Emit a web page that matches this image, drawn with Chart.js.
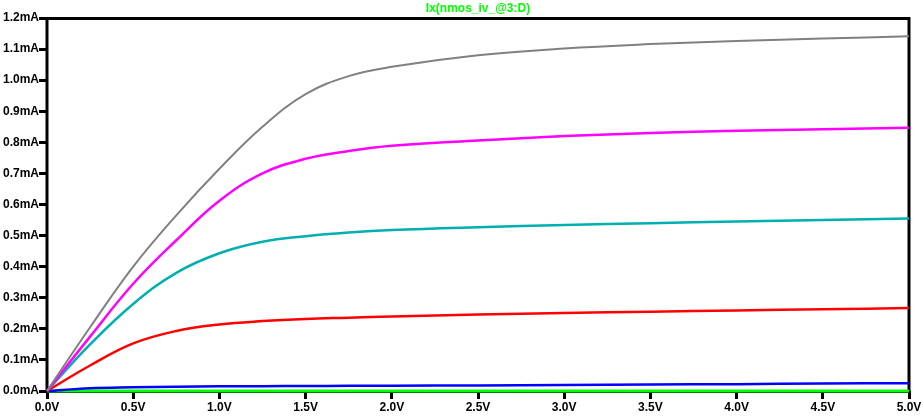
<!DOCTYPE html>
<html>
<head>
<meta charset="utf-8">
<title>Ix(nmos_iv_@3:D)</title>
<script src="https://cdn.jsdelivr.net/npm/chart.js@4.4.1/dist/chart.umd.min.js"></script>
<style>
  html, body { margin: 0; padding: 0; background: #fff; }
  #wrap { width: 923px; height: 417px; }
</style>
</head>
<body>
<div id="wrap"><canvas id="ivChart"></canvas></div>
<script>
// drain voltage sweep (V)
const vds = [0, 0.25, 0.5, 0.75, 1.0, 1.25, 1.5, 1.75, 2.0, 2.5, 3.0, 3.5, 4.0, 4.5, 5.0];

// drain current (mA) for each gate step
const idGreen   = [0, 0, 0, 0, 0, 0, 0, 0, 0, 0, 0, 0, 0, 0, 0];
const idBlue    = [0, 0.009, 0.012, 0.014, 0.015, 0.0155, 0.016, 0.0165, 0.017, 0.018, 0.019, 0.021, 0.022, 0.024, 0.025];
const idRed     = [0, 0.082, 0.153, 0.193, 0.214, 0.225, 0.232, 0.236, 0.240, 0.246, 0.251, 0.255, 0.259, 0.263, 0.267];
const idCyan    = [0, 0.150, 0.280, 0.380, 0.443, 0.480, 0.498, 0.510, 0.518, 0.527, 0.534, 0.540, 0.545, 0.550, 0.555];
const idMagenta = [0, 0.175, 0.345, 0.485, 0.612, 0.700, 0.747, 0.772, 0.789, 0.806, 0.820, 0.830, 0.837, 0.842, 0.847];
const idGray    = [0, 0.205, 0.400, 0.565, 0.715, 0.850, 0.955, 1.013, 1.043, 1.080, 1.102, 1.116, 1.126, 1.134, 1.141];

const titleText = 'Ix(nmos_iv_@3:D)';
const tickFont = { family: '"Liberation Sans", Arial, sans-serif', size: 12, weight: 'bold' };

function toPoints(ys) {
    return vds.map((v, i) => ({ x: v, y: ys[i] }));
}

function makeSeries(ys, color, width) {
    return {
        data: toPoints(ys),
        borderColor: color,
        backgroundColor: color,
        borderWidth: width,
        pointRadius: 0,
        tension: 0.4,
        clip: 4
    };
}

// black frame round the plot area + green trace name on top
const framePlugin = {
    id: 'frame',
    beforeDatasetsDraw(chart) {
        const a = chart.chartArea;
        const ctx = chart.ctx;
        ctx.save();
        ctx.strokeStyle = '#000';
        ctx.lineWidth = 3;
        ctx.strokeRect(a.left, a.top + 0.5, a.right - a.left, a.bottom - a.top);
        ctx.restore();
    },
    afterDraw(chart) {
        const a = chart.chartArea;
        const ctx = chart.ctx;
        ctx.save();
        ctx.font = 'bold 12px "Liberation Sans", Arial, sans-serif';
        ctx.fillStyle = '#00ff00';
        ctx.textAlign = 'center';
        ctx.textBaseline = 'middle';
        ctx.fillText(titleText, (a.left + a.right) / 2, 9);
        ctx.restore();
    }
};

const ctx = document.getElementById('ivChart').getContext('2d');
const ivChart = new Chart(ctx, {
    type: 'line',
    data: {
        datasets: [
            makeSeries(idGray, '#808080', 2),
            makeSeries(idMagenta, '#ff00ff', 2.5),
            makeSeries(idCyan, '#00afaf', 2.5),
            makeSeries(idRed, '#ff0000', 2.5),
            makeSeries(idBlue, '#0000ff', 2.5),
            makeSeries(idGreen, '#00ff00', 3)
        ]
    },
    options: {
        responsive: true,
        maintainAspectRatio: false,
        animation: false,
        layout: { padding: { top: 18, right: 14, left: 0, bottom: 0 } },
        plugins: {
            legend: { display: false },
            title: { display: false },
            tooltip: { enabled: false }
        },
        scales: {
            x: {
                type: 'linear',
                min: 0,
                max: 5,
                afterFit(scale) { scale.height = 26; },
                border: { display: false },
                grid: {
                    drawOnChartArea: false,
                    drawTicks: true,
                    tickLength: 8,
                    tickWidth: 3,
                    tickColor: '#000'
                },
                ticks: {
                    stepSize: 0.5,
                    color: '#000',
                    font: tickFont,
                    padding: 1,
                    maxRotation: 0,
                    autoSkip: false,
                    callback: (v) => v.toFixed(1) + 'V'
                }
            },
            y: {
                type: 'linear',
                min: 0,
                max: 1.2,
                afterFit(scale) { scale.width = 47; },
                border: { display: false },
                grid: {
                    drawOnChartArea: false,
                    drawTicks: true,
                    tickLength: 8,
                    tickWidth: 3,
                    tickColor: '#000'
                },
                ticks: {
                    stepSize: 0.1,
                    color: '#000',
                    font: tickFont,
                    padding: 0,
                    autoSkip: false,
                    callback: (v) => v.toFixed(1) + 'mA'
                }
            }
        }
    },
    plugins: [framePlugin]
});
</script>
</body>
</html>
